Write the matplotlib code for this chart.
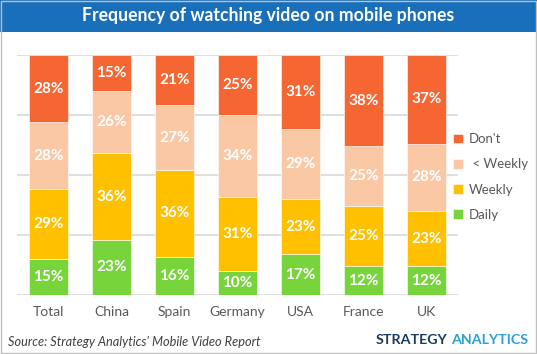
import matplotlib
matplotlib.use("Agg")
import matplotlib.pyplot as plt
from matplotlib.patches import Rectangle

categories = ["Total", "China", "Spain", "Germany", "USA", "France", "UK"]
daily = [15, 23, 16, 10, 17, 12, 12]
weekly = [29, 36, 36, 31, 23, 25, 23]
less_weekly = [28, 26, 27, 34, 29, 25, 28]
dont = [28, 15, 21, 25, 31, 38, 37]
series_names = ["Daily", "Weekly", " < Weekly", "Don't"]
series = [daily, weekly, less_weekly, dont]
colors = ["#77D53B", "#FFC000", "#FBC8A6", "#F56633"]

plt.rcParams['font.family'] = ['Lato', 'DejaVu Sans']

W, H = 537, 354
fig = plt.figure(figsize=(W / 100, H / 100), dpi=100)

# title band
fig.patches.append(Rectangle((0, 1 - 32 / H), 1, 32 / H, transform=fig.transFigure,
                             facecolor="#1A6FBB", edgecolor="none", zorder=0))
fig.patches.append(Rectangle((0.001, 0.002), 0.997, 0.996, transform=fig.transFigure,
                             facecolor="none", edgecolor="#BFBFBF", linewidth=1, zorder=5))
fig.text(0.5, 1 - 16 / H, "Frequency of watching video on mobile phones", color="white",
         fontsize=12.7, fontweight="bold", ha="center", va="center")

ax = fig.add_axes([17 / W, 1 - 295 / H, 441 / W, 240 / H])
x = list(range(len(categories)))
bottom = [0] * len(categories)
handles = []
for vals, col, name in zip(series, colors, series_names):
    bars = ax.bar(x, vals, bottom=bottom, width=0.63, color=col, edgecolor="white",
                  linewidth=0.4, label=name, zorder=3)
    handles.append(bars)
    for xi, v, b in zip(x, vals, bottom):
        ax.text(xi, b + v / 2, f"{v}%", ha="center", va="center", color="white",
                fontsize=11, fontweight="bold", zorder=4)
    bottom = [b + v for b, v in zip(bottom, vals)]

ax.set_xlim(-0.5, len(categories) - 0.5)
ax.set_ylim(0, 100)
ax.set_yticks([0, 25, 50, 75, 100])
ax.yaxis.grid(True, color="#D9D9D9", linewidth=1.2, zorder=0)
ax.set_yticklabels([])
ax.tick_params(axis="y", length=0)
ax.tick_params(axis="x", length=0, pad=8, labelsize=10, labelcolor="#595959")
ax.set_xticks(x)
ax.set_xticklabels(categories)
for s in ax.spines.values():
    s.set_visible(False)

leg = fig.legend(handles[::-1], series_names[::-1], loc="center left",
                 bbox_to_anchor=(453 / W, 1 - 177 / H), frameon=False, fontsize=9.5,
                 borderpad=0, borderaxespad=0,
                 handlelength=0.75, handleheight=0.75, labelspacing=1.0, handletextpad=0.45)
for t in leg.get_texts():
    t.set_color("#595959")

fig.text(8 / W, 1 - 342 / H, "Source: Strategy Analytics' Mobile Video Report",
         fontsize=9.2, style="italic", color="#404040", ha="left", va="center")
t1 = fig.text(528 / W, 1 - 340 / H, "ANALYTICS", fontsize=10.3, fontweight="bold",
              color="#2E9FD8", ha="right", va="center")
fig.canvas.draw()
bb = t1.get_window_extent()
fig.text((bb.x0 - 3) / W, 1 - 340 / H, "STRATEGY", fontsize=10.3, fontweight="bold",
         color="#1B3A5C", ha="right", va="center")

fig.savefig("out.png", dpi=100)
